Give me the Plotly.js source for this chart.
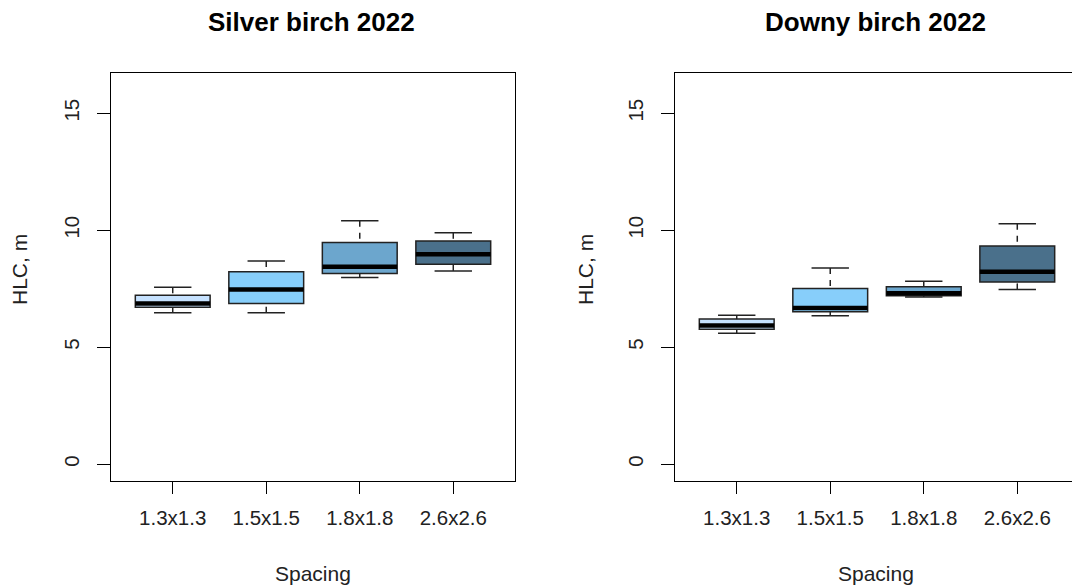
<!DOCTYPE html>
<html>
<head>
<meta charset="utf-8">
<script src="https://cdn.plot.ly/plotly-3.0.1.min.js"></script>
<style>html,body{margin:0;padding:0;background:#fff;}#chart{width:1072px;height:588px;}</style>
</head>
<body>
<div id="chart"></div>
<script>
// ---- data ----
var categories = ['1.3x1.3', '1.5x1.5', '1.8x1.8', '2.6x2.6'];
var positions = [1, 2, 3, 4];
var boxColors = ['#c6e2ff', '#87cefa', '#6ca6cd', '#4a708b'];

var silverLower  = [6.47, 6.47, 7.98, 8.26];
var silverQ1     = [6.71, 6.87, 8.15, 8.55];
var silverMedian = [6.87, 7.47, 8.44, 8.97];
var silverQ3     = [7.22, 8.22, 9.47, 9.54];
var silverUpper  = [7.56, 8.68, 10.40, 9.89];

var downyLower  = [5.60, 6.34, 7.15, 7.47];
var downyQ1     = [5.77, 6.51, 7.20, 7.79];
var downyMedian = [5.93, 6.68, 7.31, 8.22];
var downyQ3     = [6.20, 7.51, 7.58, 9.32];
var downyUpper  = [6.37, 8.39, 7.82, 10.28];

var titles = ['Silver birch 2022', 'Downy birch 2022'];
var yTitle = 'HLC, m';
var xTitle = 'Spacing';
var yTicks = [0, 5, 10, 15];

// ---- build ----
var FONT = 'Liberation Sans, Arial, sans-serif';
var boxW = 0.8, capW = 0.4;
var traces = [];

function addPanel(lower, q1, med, q3, upper, xa, ya) {
  for (var i = 0; i < categories.length; i++) {
    var x = positions[i];
    // box body (no whiskers)
    traces.push({
      type: 'box', x: [x], xaxis: xa, yaxis: ya,
      q1: [q1[i]], median: [med[i]], q3: [q3[i]],
      lowerfence: [q1[i]], upperfence: [q3[i]],
      width: boxW, whiskerwidth: 0,
      fillcolor: boxColors[i], line: {color: '#222', width: 1.5},
      hoverinfo: 'skip', showlegend: false
    });
    // dashed whiskers (from extreme toward box)
    traces.push({
      type: 'scatter', mode: 'lines', xaxis: xa, yaxis: ya,
      x: [x, x, null, x, x], y: [upper[i], q3[i], null, lower[i], q1[i]],
      line: {color: '#222', width: 1.5, dash: '6px,6px'},
      hoverinfo: 'skip', showlegend: false
    });
    // caps
    traces.push({
      type: 'scatter', mode: 'lines', xaxis: xa, yaxis: ya,
      x: [x - capW / 2, x + capW / 2, null, x - capW / 2, x + capW / 2],
      y: [upper[i], upper[i], null, lower[i], lower[i]],
      line: {color: '#222', width: 1.5},
      hoverinfo: 'skip', showlegend: false
    });
    // thick median
    traces.push({
      type: 'scatter', mode: 'lines', xaxis: xa, yaxis: ya,
      x: [x - boxW / 2, x + boxW / 2], y: [med[i], med[i]],
      line: {color: '#000', width: 4.5},
      hoverinfo: 'skip', showlegend: false
    });
  }
}
addPanel(silverLower, silverQ1, silverMedian, silverQ3, silverUpper, 'x', 'y');
addPanel(downyLower, downyQ1, downyMedian, downyQ3, downyUpper, 'x2', 'y2');

var W = 1072, H = 588;
var yDom = [(H - 481) / H, (H - 73) / H];
var xDom1 = [111 / W, 515 / W];
var xDom2 = [675 / W, 1];
var pxPerUnit = 404 / 4.32;
var yRange = [-0.72, 16.72];

function xAxis(dom, range, mirror) {
  return {
    domain: dom, range: range, tickmode: 'array', tickvals: positions, ticktext: categories,
    ticks: 'outside', ticklen: 12, tickwidth: 1, tickcolor: '#000',
    showline: true, mirror: mirror, linecolor: '#000', linewidth: 1,
    showgrid: false, zeroline: false, fixedrange: true,
    tickfont: {family: FONT, size: 20.5, color: '#222'}, ticklabelstandoff: 6
  };
}
function yAxis(dom, mirror, anchor) {
  return {
    domain: dom, range: yRange, anchor: anchor, tickmode: 'array', tickvals: yTicks,
    ticks: 'outside', ticklen: 13, tickwidth: 1, tickcolor: '#000', tickangle: -90,
    showline: true, mirror: mirror, linecolor: '#000', linewidth: 1,
    showgrid: false, zeroline: false, fixedrange: true,
    tickfont: {family: FONT, size: 20.5, color: '#222'}, ticklabelstandoff: 10
  };
}

var layout = {
  width: W, height: H, margin: {l: 0, r: 0, t: 0, b: 0},
  paper_bgcolor: '#fff', plot_bgcolor: '#fff', showlegend: false,
  xaxis: xAxis(xDom1, [0.34, 4.66], true),
  yaxis: yAxis(yDom, true, 'x'),
  xaxis2: Object.assign(xAxis(xDom2, [0.34, 0.34 + (W - 675) / pxPerUnit], true), {anchor: 'y2'}),
  yaxis2: yAxis(yDom, false, 'x2'),
  annotations: [
    {text: '<b>' + titles[0] + '</b>', xref: 'paper', yref: 'paper', x: 311 / W, y: 1 - 22 / H,
     showarrow: false, xanchor: 'center', yanchor: 'middle', font: {family: FONT, size: 26, color: '#000'}},
    {text: '<b>' + titles[1] + '</b>', xref: 'paper', yref: 'paper', x: 875 / W, y: 1 - 22 / H,
     showarrow: false, xanchor: 'center', yanchor: 'middle', font: {family: FONT, size: 26, color: '#000'}},
    {text: xTitle, xref: 'paper', yref: 'paper', x: 313 / W, y: 1 - 573 / H,
     showarrow: false, xanchor: 'center', yanchor: 'middle', font: {family: FONT, size: 21, color: '#222'}},
    {text: xTitle, xref: 'paper', yref: 'paper', x: 876 / W, y: 1 - 573 / H,
     showarrow: false, xanchor: 'center', yanchor: 'middle', font: {family: FONT, size: 21, color: '#222'}},
    {text: yTitle, xref: 'paper', yref: 'paper', x: 19 / W, y: 1 - 270 / H, textangle: -90,
     showarrow: false, xanchor: 'center', yanchor: 'middle', font: {family: FONT, size: 21, color: '#222'}},
    {text: yTitle, xref: 'paper', yref: 'paper', x: 585 / W, y: 1 - 270 / H, textangle: -90,
     showarrow: false, xanchor: 'center', yanchor: 'middle', font: {family: FONT, size: 21, color: '#222'}}
  ]
};

Plotly.newPlot('chart', traces, layout, {displayModeBar: false, staticPlot: true});
</script>
</body>
</html>
